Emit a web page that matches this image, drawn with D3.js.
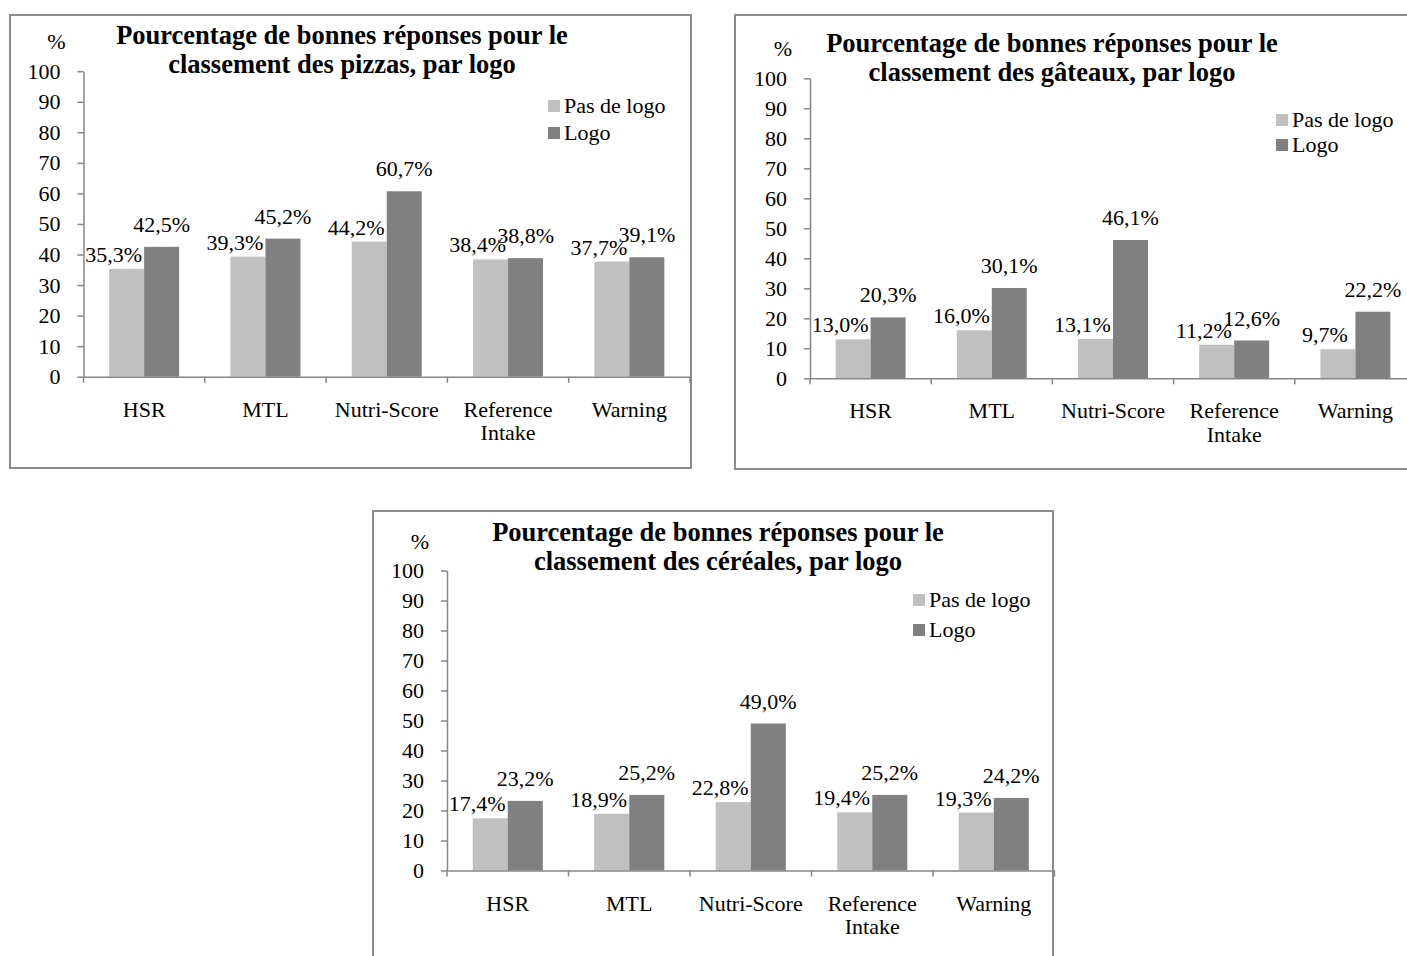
<!DOCTYPE html>
<html>
<head>
<meta charset="utf-8">
<script src="https://cdn.jsdelivr.net/npm/d3@7"></script>
<style>
  html, body { margin: 0; padding: 0; background: #fff; }
  svg { display: block; }
  text { font-family: "Liberation Serif", "Times New Roman", serif; fill: #000; }
</style>
</head>
<body>
<svg id="chart" width="1407" height="956"></svg>
<script>
// ---- Data ----
const categories = ["HSR", "MTL", "Nutri-Score", "Reference Intake", "Warning"];
const seriesNames = ["Pas de logo", "Logo"];
const yTicks = [0, 10, 20, 30, 40, 50, 60, 70, 80, 90, 100];

const pizzaNoLogo = [35.3, 39.3, 44.2, 38.4, 37.7];
const pizzaLogo   = [42.5, 45.2, 60.7, 38.8, 39.1];

const gateauNoLogo = [13.0, 16.0, 13.1, 11.2, 9.7];
const gateauLogo   = [20.3, 30.1, 46.1, 12.6, 22.2];

const cerealNoLogo = [17.4, 18.9, 22.8, 19.4, 19.3];
const cerealLogo   = [23.2, 25.2, 49.0, 25.2, 24.2];

const titles = [
  ["Pourcentage de bonnes réponses pour le", "classement des pizzas, par logo"],
  ["Pourcentage de bonnes réponses pour le", "classement des gâteaux, par logo"],
  ["Pourcentage de bonnes réponses pour le", "classement des céréales, par logo"]
];

// ---- Styles ----
const colors = ["#c0c0c0", "#808080"];
const axisColor = "#868686";
const borderColor = "#8c8c8c";
const fontSize = 22;
const titleSize = 26.5;

const svg = d3.select("#chart");

function drawChart(cfg) {
  const g = svg.append("g");
  // frame
  g.append("rect")
    .attr("x", cfg.box[0]).attr("y", cfg.box[1])
    .attr("width", cfg.box[2] - cfg.box[0]).attr("height", cfg.box[3] - cfg.box[1])
    .attr("fill", "#fff").attr("stroke", borderColor).attr("stroke-width", 2);

  const x0 = d3.scaleBand().domain(categories)
    .range([cfg.axisX, cfg.axisX + cfg.band * categories.length])
    .paddingInner(0).paddingOuter(0);
  const x1 = d3.scaleBand().domain(seriesNames)
    .range([0, x0.bandwidth()]).paddingInner(0).paddingOuter(0.733);
  const y = d3.scaleLinear().domain([0, 100]).range([cfg.y0, cfg.y100]);

  const rows = categories.map((c, i) => ({ cat: c, vals: [cfg.noLogo[i], cfg.logo[i]] }));

  // bars
  const grp = g.selectAll(".grp").data(rows).join("g")
    .attr("transform", d => `translate(${x0(d.cat)},0)`);
  grp.selectAll("rect").data(d => d.vals.map((v, k) => ({ v, k })))
    .join("rect")
    .attr("x", d => x1(seriesNames[d.k]))
    .attr("width", x1.bandwidth())
    .attr("y", d => y(d.v))
    .attr("height", d => y(0) - y(d.v))
    .attr("fill", d => colors[d.k]);

  // value labels
  grp.selectAll("text.val").data(d => d.vals.map((v, k) => ({ v, k })))
    .join("text").attr("class", "val")
    .attr("x", d => x1(seriesNames[d.k]) + x1.bandwidth() / 2 + (d.k === 0 ? -13 : 0))
    .attr("y", d => y(d.v) - (d.k === 0 ? 7 : 15))
    .attr("text-anchor", "middle")
    .attr("font-size", fontSize)
    .text(d => d.v.toFixed(1).replace(".", ",") + "%");

  // y axis
  const yAxis = g.append("g").attr("transform", `translate(${cfg.axisX},0)`)
    .call(d3.axisLeft(y).tickValues(yTicks).tickSize(6).tickSizeOuter(0).tickPadding(17));
  yAxis.selectAll("path, line").attr("stroke", axisColor).attr("stroke-width", 1.5);
  yAxis.selectAll("text").attr("font-size", fontSize).attr("font-family", "Liberation Serif").attr("fill", "#000");

  // x axis
  const xAxis = g.append("g").attr("transform", `translate(0,${cfg.y0})`)
    .call(d3.axisBottom(x0).tickSize(0).tickSizeOuter(0).tickPadding(0));
  xAxis.select(".domain").attr("stroke", axisColor).attr("stroke-width", 1.5);
  xAxis.selectAll(".tick text").each(function(d) {
    const t = d3.select(this);
    t.text(null).attr("font-size", fontSize).attr("font-family", "Liberation Serif")
      .attr("fill", "#000").attr("y", 0).attr("dy", null);
    d.split(" ").forEach((w, i) => {
      t.append("tspan").attr("x", 0).attr("y", 40 + i * 23.5).text(w);
    });
  });
  const bounds = categories.map(c => x0(c)).concat([x0.range()[1]]);
  xAxis.selectAll("line.bnd").data(bounds).join("line").attr("class", "bnd")
    .attr("x1", d => d).attr("x2", d => d).attr("y1", 0).attr("y2", 6)
    .attr("stroke", axisColor).attr("stroke-width", 1.5);

  // % unit
  g.append("text").attr("x", cfg.axisX - 27).attr("y", cfg.y100 - 22)
    .attr("text-anchor", "middle").attr("font-size", fontSize).text("%");

  // title
  cfg.title.forEach((line, i) => {
    g.append("text").attr("x", cfg.titleX).attr("y", cfg.titleY + i * 29)
      .attr("text-anchor", "middle").attr("font-size", titleSize)
      .attr("font-weight", "bold").text(line);
  });

  // legend
  seriesNames.forEach((s, i) => {
    const cy = cfg.legY + i * cfg.legGap;
    g.append("rect").attr("x", cfg.legX).attr("y", cy - 6).attr("width", 12).attr("height", 12)
      .attr("fill", colors[i]);
    g.append("text").attr("x", cfg.legX + 16).attr("y", cy + 7)
      .attr("font-size", fontSize).text(s);
  });
}

drawChart({
  box: [10, 15, 691, 468], axisX: 83.5, band: 121.3, y0: 376.7, y100: 71.2,
  noLogo: pizzaNoLogo, logo: pizzaLogo, title: titles[0], titleX: 342, titleY: 44,
  legX: 548, legY: 106, legGap: 27
});
drawChart({
  box: [735, 15, 1412, 469], axisX: 810, band: 121.2, y0: 378.3, y100: 78.3,
  noLogo: gateauNoLogo, logo: gateauLogo, title: titles[1], titleX: 1052, titleY: 52,
  legX: 1276, legY: 120, legGap: 25
});
drawChart({
  box: [373, 511, 1053, 962], axisX: 447, band: 121.5, y0: 870.5, y100: 570.5,
  noLogo: cerealNoLogo, logo: cerealLogo, title: titles[2], titleX: 718, titleY: 541,
  legX: 913, legY: 600, legGap: 30
});
</script>
</body>
</html>
